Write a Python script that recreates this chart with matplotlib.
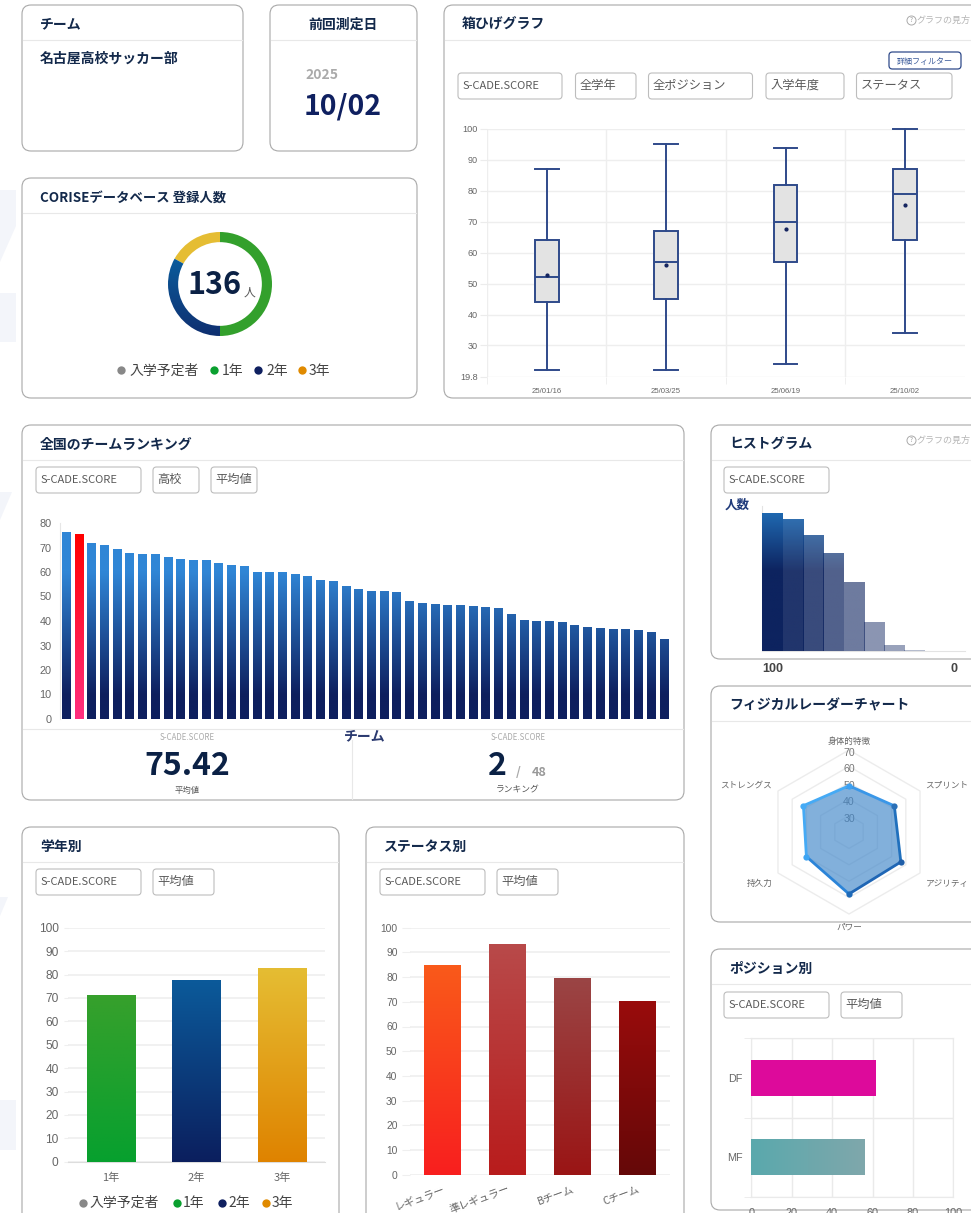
import numpy as np
import matplotlib
matplotlib.use("Agg")
import matplotlib.pyplot as plt
from matplotlib.colors import LinearSegmentedColormap
from matplotlib.patches import FancyBboxPatch, Polygon

W, H = 971, 1213
JP = ["Noto Sans CJK JP", "DejaVu Sans"]
NUM = ["Liberation Sans", "DejaVu Sans"]
plt.rcParams["font.family"] = JP

# --- data ---
legend_labels = ["入学予定者", "1年", "2年", "3年"]
legend_colors = ["#888888", "#0aa02f", "#0f2060", "#e08a00"]

donut_values = [68, 45, 23]

box_dates = ["25/01/16", "25/03/25", "25/06/19", "25/10/02"]
box_low = [22, 22, 24, 34]
box_q1 = [44, 45, 57, 64]
box_med = [52, 57, 70, 79]
box_q3 = [64, 67, 82, 87]
box_high = [87, 95, 94, 100]
box_mean = [52.8, 56, 67.5, 75.4]

rank_values = [76.4, 75.42, 72, 71, 69.2, 67.7, 67.4, 67.4, 66.3, 65.3, 64.9, 64.9,
               63.6, 63, 62.5, 60, 59.9, 59.8, 59.2, 58.4, 56.6, 56.5, 54.3, 52.9,
               52.4, 52.1, 51.8, 48, 47.2, 47.1, 46.7, 46.5, 46.1, 45.7, 45.3, 42.7,
               40.5, 40.1, 39.8, 39.6, 38.2, 37.5, 37.2, 36.6, 36.6, 36.2, 35.6, 32.7]
rank_highlight = 1

hist_values = [100, 96, 84, 71, 50, 21, 4, 0.3, 0.1, 0.1]
hist_alpha = [1, 0.92, 0.82, 0.72, 0.6, 0.48, 0.42, 0.3, 0.3, 0.3]

radar_labels = ["身体的特徴", "スプリント", "アジリティ", "パワー", "持久力", "ストレングス"]
radar_values = [48.2, 51.9, 56.5, 57.8, 50, 52.1]
radar_edge_colors = ["#3a97e8", "#2070bd", "#1f66b5", "#2b84d8", "#45aaf5", "#45aaf5"]
radar_dot_colors = ["#3da0f0", "#2a70b8", "#1f5ea8", "#1f6ab8", "#3da4f2", "#45aaf5"]
radar_rings = [30, 40, 50, 60, 70]

grade_labels = ["1年", "2年", "3年"]
grade_values = [71.4, 77.6, 82.9]
grade_colors = [("#07a02f", "#37a02c"), ("#0c1f5e", "#0b5a9a"), ("#df8300", "#e5bd33")]

status_labels = ["レギュラー", "準レギュラー", "Bチーム", "Cチーム"]
status_values = [85, 93.4, 79.5, 70.3]
status_colors = [("#f81f1f", "#fa5a1a"), ("#b81c1c", "#b84a4a"),
                 ("#9a1515", "#9a4545"), ("#650808", "#990c0c")]

pos_labels = ["DF", "MF"]
pos_values = [61.5, 56.1]

fig = plt.figure(figsize=(W / 100, H / 100), dpi=100, facecolor="white")
bg = fig.add_axes([0, 0, 1, 1])
bg.set_xlim(0, W)
bg.set_ylim(H, 0)
bg.axis("off")


def axes_px(x0, y0, x1, y1, **kw):
    ax = fig.add_axes([x0 / W, 1 - y1 / H, (x1 - x0) / W, (y1 - y0) / H], **kw)
    ax.patch.set_alpha(0)
    return ax


def txt(x, y, s, size=8, color="#555555", weight="normal", ha="left", family=None, **kw):
    # CJK fonts sit high when centred, so nudge down a pixel
    bg.text(x, y + 1, s, fontsize=size, color=color, fontweight=weight, ha=ha, va="center",
            family=family or JP, **kw)


def card(x0, y0, x1, y1, head_y, title=None, title_x=None, ha="left", title_size=10):
    bg.add_patch(FancyBboxPatch((x0, y0), x1 - x0, y1 - y0, boxstyle="round,pad=0,rounding_size=9",
                                fc="white", ec="#a8a8a8", lw=0.8, zorder=1))
    bg.plot([x0 + 1, x1 - 1], [head_y, head_y], color="#e8e8e8", lw=0.8, zorder=2)
    if title:
        bg.text(title_x if title_x else x0 + 18, (y0 + head_y) / 2 + 2, title, fontsize=title_size,
                fontweight="bold", color="#13294b", ha=ha, va="center", zorder=3)


def dropdown(x0, x1, y0, label):
    bg.add_patch(FancyBboxPatch((x0, y0), x1 - x0, 26, boxstyle="round,pad=0,rounding_size=3.5",
                                fc="white", ec="#bdbdbd", lw=0.8, zorder=3))
    is_score = label.startswith("S-")
    bg.text(x0 + 4.5, y0 + 13 if is_score else y0 + 12.5, label, fontsize=8 if is_score else 8.8,
            color="#5a5a5a", va="center", zorder=4)


def help_link(x, y):
    bg.plot([x], [y], "o", ms=6.5, mfc="none", mec="#aaaaaa", mew=0.7, zorder=4)
    bg.text(x, y, "?", fontsize=4.5, color="#999999", ha="center", va="center", zorder=4)
    bg.text(x + 5, y, "グラフの見方", fontsize=6.5, color="#b5b5b5", va="center", zorder=4)


def grad_fill(ax, patch, bottom, top, extent=None, alpha=1.0, zorder=3):
    cmap = LinearSegmentedColormap.from_list("g", [bottom, top] if isinstance(bottom, str) else bottom)
    if extent is None:
        b = patch.get_bbox()
        extent = [b.x0, b.x1, b.y0, b.y1]
    arr = np.linspace(1, 0, 256).reshape(-1, 1)
    im = ax.imshow(arr, extent=extent, cmap=cmap, vmin=0, vmax=1, aspect="auto", alpha=alpha, zorder=zorder)
    im.set_clip_path(patch)


def style_num_ticks(ax, size, color="#666666"):
    for t in ax.get_yticklabels() + ax.get_xticklabels():
        t.set_fontsize(size)
        t.set_color(color)


# faint watermark at the left edge
for pts in [[(0, 190), (16, 190), (16, 226), (0, 262)], [(0, 293), (16, 293), (16, 342), (0, 342)],
            [(0, 492), (12, 492), (0, 520)], [(0, 897), (8, 897), (0, 916)],
            [(0, 1100), (16, 1100), (16, 1150), (0, 1150)]]:
    bg.add_patch(Polygon(pts, closed=True, fc="#f3f5fa", ec="none", zorder=0))

# --- top-left cards ---
card(22, 5, 243, 151, 40, "チーム")
txt(40, 58, "名古屋高校サッカー部", size=10, weight="bold", color="#13294b", zorder=3)
card(270, 5, 417, 151, 40, "前回測定日", title_x=343, ha="center")
txt(305, 74, "2025", size=10, weight="bold", color="#aaaaaa", zorder=3)
txt(343, 105, "10/02", size=20.5, weight="bold", color="#0f2060", ha="center", zorder=3)
card(22, 178, 417, 398, 213, "CORISEデータベース 登録人数", title_size=9.6)


def legend_row(y, dots, starts):
    for label, color, dx, sx in zip(legend_labels, legend_colors, dots, starts):
        bg.plot([dx], [y], "o", ms=6, color=color, mec="none", zorder=4)
        txt(sx, y - 0.5, label, size=10, color="#444444", zorder=4)


# donut
ax = axes_px(168, 232, 272, 336)
wedges, _ = ax.pie(donut_values, colors=["#33a02c", "none", "#e5bd33"], startangle=90, counterclock=False,
                   radius=1, wedgeprops={"width": 0.195, "linewidth": 0})
grad_fill(ax, wedges[1], "#0f2f70", "#0b5c9c", extent=[-1, 1, -1, 0.5])
ax.set_xlim(-1, 1)
ax.set_ylim(-1, 1)
txt(215, 284, "136", size=22, weight="bold", color="#0b2145", ha="center", zorder=5)
txt(249, 291, "人", size=8.5, color="#555555", ha="center", zorder=5)
legend_row(370, [121, 214, 258, 302], [129, 222, 266, 309])

# --- box plot card ---
card(444, 5, 985, 398, 40, "箱ひげグラフ")
help_link(911, 20)
bg.add_patch(FancyBboxPatch((889, 52), 72, 17, boxstyle="round,pad=0,rounding_size=3.5",
                            fc="white", ec="#2f4a8a", lw=0.9, zorder=3))
txt(925, 60, "詳細フィルター", size=5.8, color="#3a5a9a", ha="center", zorder=4)
dropdown(458, 562, 73, "S-CADE.SCORE")
dropdown(575.5, 636, 73, "全学年")
dropdown(648.5, 752.5, 73, "全ポジション")
dropdown(766, 844, 73, "入学年度")
dropdown(856.5, 952, 73, "ステータス")

ax = axes_px(487, 129, 964.6, 377)
box_stats = [{"whislo": a, "q1": b, "med": c, "q3": d, "whishi": e, "mean": m, "fliers": []}
             for a, b, c, d, e, m in zip(box_low, box_q1, box_med, box_q3, box_high, box_mean)]
line = {"color": "#2f4a8a", "lw": 1.4}
parts = ax.bxp(box_stats, positions=range(4), widths=0.2, showmeans=True, patch_artist=True,
               boxprops={"facecolor": "#e3e3e3", "edgecolor": "#2f4a8a", "lw": 1.4},
               medianprops=line, whiskerprops=line, capprops=line, capwidths=0.2,
               meanprops={"marker": "o", "ms": 2, "mfc": "#14245f", "mec": "#14245f"})
for art in parts["caps"] + parts["whiskers"]:
    art.set_clip_on(False)
ax.set_xlim(-0.5, 3.5)
ax.set_ylim(19.8, 100)
ax.set_yticks([19.8, 30, 40, 50, 60, 70, 80, 90, 100], ["19.8", "30", "40", "50", "60", "70", "80", "90", "100"],
              family=NUM)
ax.set_xticks(range(4), box_dates, family=NUM)
ax.set_xticks([-0.5, 0.5, 1.5, 2.5], minor=True)
ax.tick_params(axis="x", which="major", length=0, pad=8)
ax.tick_params(axis="x", which="minor", length=5, color="#ececec")
ax.tick_params(axis="y", length=5, color="#ececec", pad=1.5)
ax.grid(axis="y", color="#eeeeee", lw=1)
ax.grid(axis="x", which="minor", color="#eeeeee", lw=1)
ax.grid(axis="x", which="major", visible=False)
ax.set_axisbelow(True)
for s in ax.spines.values():
    s.set_visible(False)
style_num_ticks(ax, 6.6)
for t in ax.get_xticklabels():
    t.set_fontsize(5.6)

# --- ranking card ---
card(22, 425, 684, 800, 460, "全国のチームランキング")
dropdown(36, 141, 467, "S-CADE.SCORE")
dropdown(153, 199, 467, "高校")
dropdown(211, 257, 467, "平均値")

ax = axes_px(59.6, 523, 670, 719)
bars = ax.bar(range(len(rank_values)), rank_values, width=0.65, color="none", zorder=3)
navy_blue = [(0, "#0e1f5e"), (0.12, "#0e1f5e"), (0.75, "#3086d6"), (1, "#3086d6")]
for i, b in enumerate(bars):
    x0 = b.get_x()
    if i == rank_highlight:
        grad_fill(ax, b, "#ff3080", "#ff0000", extent=[x0, x0 + 0.65, 0, 75.42])
    else:
        grad_fill(ax, b, navy_blue, None, extent=[x0, x0 + 0.65, 0, 80])
ax.set_xlim(-0.5, 47.5)
ax.set_ylim(0, 80)
ax.set_yticks(range(0, 81, 10), [str(v) for v in range(0, 81, 10)], family=NUM)
ax.set_xticks([])
ax.tick_params(axis="y", length=0, pad=6)
for k, s in ax.spines.items():
    s.set_visible(k == "left")
    s.set_color("#e6e6e6")
style_num_ticks(ax, 7.8)

bg.plot([23, 683], [729, 729], color="#e8e8e8", lw=0.8, zorder=2)
bg.plot([352, 352], [740, 799], color="#e8e8e8", lw=0.8, zorder=2)
txt(187, 737, "S-CADE.SCORE", size=5.7, color="#aaaaaa", ha="center", zorder=3)
txt(518, 737, "S-CADE.SCORE", size=5.7, color="#aaaaaa", ha="center", zorder=3)
txt(365, 735, "チーム", size=10, weight="bold", color="#2b3a70", ha="center", zorder=3)
txt(187, 765, "75.42", size=23, weight="bold", color="#0b2145", ha="center", zorder=3)
txt(497, 765, "2", size=23, weight="bold", color="#0b2145", ha="center", zorder=3)
txt(518, 772, "/", size=9, weight="bold", color="#aaaaaa", ha="center", zorder=3)
txt(539, 771, "48", size=9, weight="bold", color="#999999", ha="center", zorder=3)
txt(187, 789, "平均値", size=6, color="#555555", ha="center", zorder=3)
txt(518, 789, "ランキング", size=6.3, color="#555555", ha="center", zorder=3)

# --- histogram card ---
card(711, 425, 985, 659, 460, "ヒストグラム")
help_link(911, 440)
dropdown(724, 829, 467, "S-CADE.SCORE")
txt(725, 504, "人数", size=9, weight="bold", color="#1f3a7a", zorder=3)

ax = axes_px(762.3, 506.4, 965.3, 650.7)
bars = ax.bar(range(len(hist_values)), hist_values, width=1.0, align="edge", color="none", zorder=3)
hist_stops = [(0, "#0d235f"), (0.58, "#0d235f"), (1, "#1f68b0")]
for b, a in zip(bars, hist_alpha):
    grad_fill(ax, b, hist_stops, None, extent=[b.get_x(), b.get_x() + 1, 0, 100], alpha=a)
ax.set_xlim(0, 10)
ax.set_ylim(0, 105)
ax.set_xticks([])
ax.set_yticks([])
for k, s in ax.spines.items():
    s.set_visible(k in ("left", "bottom"))
    s.set_color("#e3e3e3")
txt(773, 668, "100", size=9, weight="bold", color="#444444", ha="center", family=NUM, zorder=3)
txt(954, 668, "0", size=9, weight="bold", color="#444444", ha="center", family=NUM, zorder=3)

# --- radar card ---
card(711, 686, 985, 922, 721, "フィジカルレーダーチャート")
ax = axes_px(849 - 82, 832 - 82, 849 + 82, 832 + 82, projection="polar")
ax.set_theta_zero_location("N")
ax.set_theta_direction(-1)
ax.set_ylim(20, 70)
ax.axis("off")
theta = np.linspace(0, 2 * np.pi, 7)
for r in radar_rings:
    ax.plot(theta, [r] * 7, color="#ececec", lw=1, zorder=1, clip_on=False)
    ax.annotate(str(r), (0, r), xytext=(0, -3), textcoords="offset pixels", ha="center", va="center",
                fontsize=7.6, color="#777777", family=NUM, zorder=2, annotation_clip=False)
closed = radar_values + radar_values[:1]
ax.fill(theta, closed, color="#3f86c9", alpha=0.65, lw=0, zorder=3)
for i in range(6):
    ax.plot(theta[i:i + 2], closed[i:i + 2], color=radar_edge_colors[i], lw=2, zorder=4)
    ax.plot(theta[i], closed[i], "o", ms=4.5, color=radar_dot_colors[i], mec="none", zorder=5)
radar_px = [(849, 740), (947, 784), (947, 882.5), (849, 926), (760, 882.5), (746.5, 784)]
for label, (x, y) in zip(radar_labels, radar_px):
    txt(x, y, label, size=6.2, color="#666666", ha="center", zorder=4)

# --- grade card ---
card(22, 827, 339, 1230, 862, "学年別")
dropdown(36, 141, 869, "S-CADE.SCORE")
dropdown(153, 214, 869, "平均値")

ax = axes_px(68, 927.7, 325.4, 1161.7)
bars = ax.bar(range(3), grade_values, width=0.565, color="none", zorder=3)
for b, (lo, hi) in zip(bars, grade_colors):
    grad_fill(ax, b, lo, hi)
ax.set_xlim(-0.5, 2.5)
ax.set_ylim(0, 100)
ax.set_yticks(range(0, 101, 10), [str(v) for v in range(0, 101, 10)], family=NUM)
ax.set_xticks(range(3), grade_labels)
ax.tick_params(axis="y", length=3.2, color="#efefef", pad=3.6)
ax.tick_params(axis="x", length=0, pad=8)
ax.grid(axis="y", color="#efefef", lw=1.2)
ax.set_axisbelow(True)
for k, s in ax.spines.items():
    s.set_visible(k == "bottom")
    s.set_color("#dddddd")
style_num_ticks(ax, 8.6)
for t in ax.get_xticklabels():
    t.set_fontsize(8)
legend_row(1202.5, [83, 176.5, 221.5, 266], [90, 183, 228, 272])

# --- status card ---
card(366, 827, 684, 1230, 862, "ステータス別")
dropdown(380, 485, 869, "S-CADE.SCORE")
dropdown(497, 558, 869, "平均値")

ax = axes_px(410, 927.7, 670, 1174.7)
bars = ax.bar(range(4), status_values, width=0.565, color="none", zorder=3)
for b, (lo, hi) in zip(bars, status_colors):
    grad_fill(ax, b, lo, hi)
ax.set_xlim(-0.5, 3.5)
ax.set_ylim(0, 100)
ax.set_yticks(range(0, 101, 10), [str(v) for v in range(0, 101, 10)], family=NUM)
ax.set_xticks(range(4), status_labels, rotation=20, ha="right", rotation_mode="anchor")
ax.tick_params(axis="y", length=6, color="#efefef", pad=3)
ax.tick_params(axis="x", length=0, pad=7)
ax.grid(axis="y", color="#efefef", lw=1.2)
ax.set_axisbelow(True)
for s in ax.spines.values():
    s.set_visible(False)
style_num_ticks(ax, 7.4)
for t in ax.get_xticklabels():
    t.set_fontsize(7.6)

# --- position card ---
card(711, 949, 985, 1210, 984, "ポジション別")
dropdown(724, 829, 992, "S-CADE.SCORE")
dropdown(841, 902, 992, "平均値")

ax = axes_px(751.3, 1037.7, 953.3, 1197.3)
bars = ax.barh(range(2), pos_values, height=0.45, color="none", zorder=3)
bars[0].set_facecolor("#dd0a9b")
b = bars[1].get_bbox()
cmap = LinearSegmentedColormap.from_list("mf", ["#5aa9ad", "#7fa7ab"])
im = ax.imshow(np.linspace(0, 1, 128).reshape(1, -1), extent=[b.x0, b.x1, b.y1, b.y0], cmap=cmap,
               aspect="auto", zorder=3)
im.set_clip_path(bars[1])
ax.set_xlim(0, 100)
ax.set_ylim(1.5, -0.5)
ax.set_xticks(range(0, 101, 20), [str(v) for v in range(0, 101, 20)], family=NUM)
ax.set_yticks(range(2), pos_labels, family=NUM)
ax.set_yticks([-0.5, 0.5, 1.5], minor=True)
ax.tick_params(axis="y", which="major", length=0, pad=6.5)
ax.tick_params(axis="y", which="minor", length=5, color="#eaeaea")
ax.tick_params(axis="x", length=0, pad=8)
ax.grid(axis="x", color="#eaeaea", lw=1)
ax.grid(axis="y", which="minor", color="#eaeaea", lw=1)
ax.set_axisbelow(True)
for s in ax.spines.values():
    s.set_color("#eaeaea")
style_num_ticks(ax, 7.8)

fig.savefig("out.png", dpi=100)
